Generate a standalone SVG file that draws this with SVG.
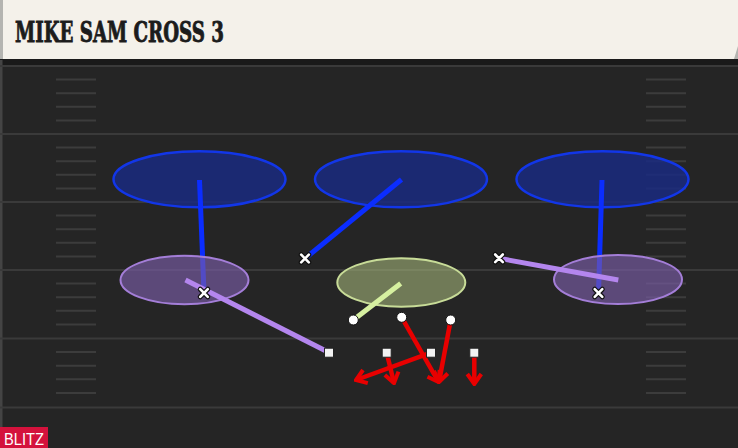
<svg xmlns="http://www.w3.org/2000/svg" width="738" height="448" viewBox="0 0 738 448">
  <style>
    .yard { stroke: #3a3a3a; stroke-width: 2; }
    .hash { stroke: #3c3c3c; stroke-width: 2; }
    .deep { fill: #1a2a80; fill-opacity: 0.85; stroke: #1236e8; stroke-width: 2.5; }
    .purple { fill: #7a5ca6; fill-opacity: 0.65; stroke: #a47ed8; stroke-width: 2; }
    .green { fill: #a4b47a; fill-opacity: 0.6; stroke: #c8dc98; stroke-width: 2; }
    .blue { stroke: #0b2dff; stroke-width: 5; fill: none; }
    .lav { stroke: #b486ee; stroke-width: 5; fill: none; }
    .lime { stroke: #d6f0a0; stroke-width: 5; fill: none; }
    .red { stroke: #e80000; stroke-width: 4.5; fill: none; marker-end: url(#arrow); }
    .xo { stroke: #111; stroke-width: 5; stroke-linecap: round; }
    .xi { stroke: #fff; stroke-width: 2.6; stroke-linecap: round; }
    .dot { fill: #fff; stroke: #111; stroke-width: 1; }
    .sq { fill: #f2f2f2; stroke: #222; stroke-width: 1; }
    .title { font-family: 'DejaVu Serif','Liberation Serif',serif; font-weight: bold; font-size: 27px; }
  </style>
  <defs>
    <marker id="arrow" viewBox="-12 -9 14 18" refX="0" refY="0" markerWidth="14" markerHeight="18" markerUnits="userSpaceOnUse" orient="auto">
      <path d="M-10,-7 L0,0 L-10,7" fill="none" stroke="#e80000" stroke-width="4"/>
    </marker>
    <g id="xm">
      <path class="xo" d="M-3.8,-3.8 L3.8,3.8 M3.8,-3.8 L-3.8,3.8"/>
      <path class="xi" d="M-3.8,-3.8 L3.8,3.8 M3.8,-3.8 L-3.8,3.8"/>
    </g>
    <g id="hashes">
      <line x1="0" y1="13.6" x2="40" y2="13.6"/>
      <line x1="0" y1="27.2" x2="40" y2="27.2"/>
      <line x1="0" y1="40.8" x2="40" y2="40.8"/>
      <line x1="0" y1="54.4" x2="40" y2="54.4"/>
    </g>
  </defs>

  <!-- field -->
  <rect x="0" y="0" width="738" height="448" fill="#252525"/>
  <rect x="0" y="58" width="738" height="7" fill="#1a1a1a"/>
  <rect x="0" y="60" width="2.5" height="388" fill="#444"/>
  <g id="yardlines" class="yard">
    <line x1="0" y1="66" x2="738" y2="66"/>
    <line x1="0" y1="134" x2="738" y2="134"/>
    <line x1="0" y1="202" x2="738" y2="202"/>
    <line x1="0" y1="270" x2="738" y2="270"/>
    <line x1="0" y1="338.5" x2="738" y2="338.5"/>
    <line x1="0" y1="407.5" x2="738" y2="407.5"/>
  </g>
  <g id="hashmarks" class="hash">
    <use href="#hashes" x="56" y="66"/>
    <use href="#hashes" x="56" y="134"/>
    <use href="#hashes" x="56" y="202"/>
    <use href="#hashes" x="56" y="270"/>
    <use href="#hashes" x="56" y="338.5"/>
    <use href="#hashes" x="646" y="66"/>
    <use href="#hashes" x="646" y="134"/>
    <use href="#hashes" x="646" y="202"/>
    <use href="#hashes" x="646" y="270"/>
    <use href="#hashes" x="646" y="338.5"/>
  </g>

  <!-- header -->
  <g id="header">
    <rect x="0" y="0" width="738" height="59" fill="#b4b4b0"/>
    <path d="M3,0 H738 V46 L734,59 H3 Z" fill="#f4f1ea"/>
    <text class="title" x="15" y="42" fill="#1c1c1c" stroke="#1c1c1c" stroke-width="0.9" textLength="209" lengthAdjust="spacingAndGlyphs">MIKE SAM CROSS 3</text>
  </g>

  <!-- zones -->
  <g id="deep-left"><ellipse class="deep" cx="199.5" cy="179.3" rx="86" ry="28"/></g>
  <g id="deep-middle"><ellipse class="deep" cx="401" cy="179.3" rx="86" ry="28"/></g>
  <g id="deep-right"><ellipse class="deep" cx="602.5" cy="179.3" rx="86" ry="28"/></g>

  <g id="connectors-deep">
    <line class="blue" x1="199.5" y1="180" x2="204" y2="293"/>
    <line class="blue" x1="401.5" y1="179.5" x2="305" y2="258.5"/>
    <line class="blue" x1="602" y1="180" x2="598.5" y2="293"/>
  </g>

  <g id="hook-left"><ellipse class="purple" cx="184.5" cy="280" rx="64" ry="24.3"/></g>
  <g id="hook-right"><ellipse class="purple" cx="618" cy="279.5" rx="64" ry="24.5"/></g>
  <g id="hook-middle"><ellipse class="green" cx="401.3" cy="282.5" rx="64" ry="24.2"/></g>

  <g id="connectors">
    <line class="lav" x1="185.5" y1="280" x2="329" y2="352.5"/>
    <line class="lav" x1="499" y1="258.3" x2="618.3" y2="280"/>
    <line class="lime" x1="400.7" y1="283.5" x2="353.3" y2="320"/>
    <line class="red" x1="401.7" y1="317.3" x2="438.5" y2="382"/>
    <line class="red" x1="450.7" y1="320" x2="439" y2="382"/>
    <line class="red" x1="386.7" y1="352.7" x2="394" y2="383"/>
    <line class="red" x1="431" y1="352.7" x2="356" y2="380"/>
    <line class="red" x1="474.3" y1="352.7" x2="474.3" y2="384"/>
  </g>

  <!-- players -->
  <g id="defender-lb-left"><use href="#xm" x="204" y="293"/></g>
  <g id="defender-mid"><use href="#xm" x="305" y="258.5"/></g>
  <g id="defender-lb-right"><use href="#xm" x="499" y="258.3"/></g>
  <g id="defender-right"><use href="#xm" x="598.5" y="293"/></g>
  <g id="rusher-1"><circle class="dot" cx="353.3" cy="320" r="5"/></g>
  <g id="rusher-2"><circle class="dot" cx="401.7" cy="317.3" r="5"/></g>
  <g id="rusher-3"><circle class="dot" cx="450.7" cy="320" r="5"/></g>
  <g id="lineman-1"><rect class="sq" x="324.5" y="348.2" width="9" height="9"/></g>
  <g id="lineman-2"><rect class="sq" x="382.2" y="348.2" width="9" height="9"/></g>
  <g id="lineman-3"><rect class="sq" x="426.5" y="348.2" width="9" height="9"/></g>
  <g id="lineman-4"><rect class="sq" x="469.8" y="348.2" width="9" height="9"/></g>

  <!-- badge -->
  <g id="blitz-badge">
    <rect x="0" y="427" width="48" height="21" fill="#d4123c"/>
    <text x="4" y="445" font-family="'Liberation Sans','DejaVu Sans',sans-serif" font-size="16.5" fill="#ffffff" textLength="40" lengthAdjust="spacingAndGlyphs">BLITZ</text>
  </g>
</svg>
